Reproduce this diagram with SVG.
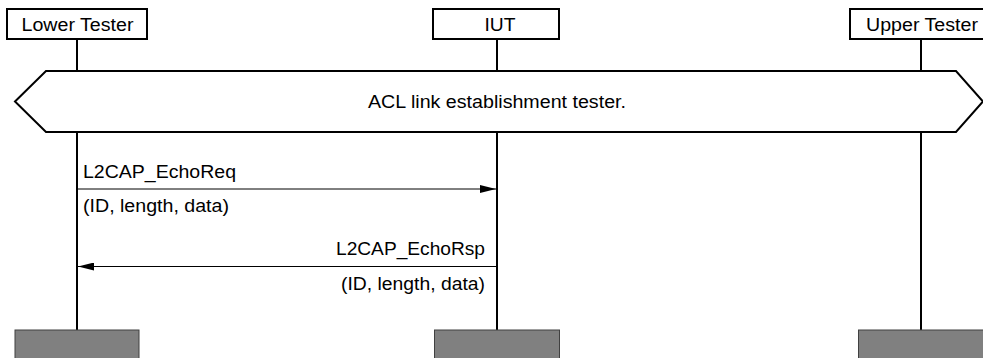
<svg xmlns="http://www.w3.org/2000/svg" width="983" height="358" viewBox="0 0 983 358">
<style>
text{font-family:"Liberation Sans",Arial,sans-serif;font-size:17.5px;fill:#000}
.hd{fill:#fff;stroke:#000;stroke-width:2}
.life{stroke:#000;stroke-width:2;fill:none}
.foot{fill:#808080;stroke:#404040;stroke-width:1}
.msg{stroke:#000;stroke-width:1;fill:none}
.sep{stroke:#000;stroke-width:1}
</style>
<defs>
<marker id="ah" viewBox="0 0 16 8" refX="16" refY="4" markerWidth="16" markerHeight="8" markerUnits="userSpaceOnUse" orient="auto">
<path d="M0,0 L16,4 L0,8 Z" fill="#000"/>
</marker>
</defs>
<g id="lower-tester">
<rect class="hd" x="7" y="9" width="140" height="30"/>
<text x="77.5" y="31" text-anchor="middle" textLength="112" lengthAdjust="spacingAndGlyphs">Lower Tester</text>
<line class="life" x1="77" y1="39" x2="77" y2="71"/>
<line class="life" x1="77" y1="132" x2="77" y2="330"/>
<rect class="foot" x="15" y="330" width="124" height="30"/>
</g>
<g id="iut">
<rect class="hd" x="433" y="9" width="126" height="30"/>
<text x="500" y="31" text-anchor="middle" textLength="31" lengthAdjust="spacingAndGlyphs">IUT</text>
<line class="life" x1="497" y1="39" x2="497" y2="71"/>
<line class="life" x1="497" y1="132" x2="497" y2="330"/>
<rect class="foot" x="434.5" y="330" width="125" height="30"/>
</g>
<g id="upper-tester">
<rect class="hd" x="850" y="9" width="142" height="30"/>
<text x="922" y="31" text-anchor="middle" textLength="112" lengthAdjust="spacingAndGlyphs">Upper Tester</text>
<line class="life" x1="921" y1="39" x2="921" y2="71"/>
<line class="life" x1="921" y1="132" x2="921" y2="330"/>
<rect class="foot" x="858.5" y="330" width="126" height="30"/>
</g>
<g id="acl-establishment">
<polygon class="hd" points="15,101.5 46,71 956,71 983,101.5 956,132 46,132"/>
<text x="497" y="108" text-anchor="middle" textLength="258" lengthAdjust="spacingAndGlyphs">ACL link establishment tester.</text>
</g>
<g id="connectors">
<g id="echo-req">
<line class="msg" x1="78" y1="189" x2="496" y2="189" marker-end="url(#ah)"/>
<text x="83" y="178" textLength="153" lengthAdjust="spacingAndGlyphs">L2CAP_EchoReq</text>
<text x="83" y="212" textLength="146" lengthAdjust="spacingAndGlyphs">(ID, length, data)</text>
</g>
<g id="echo-rsp">
<line class="msg" x1="496" y1="266.5" x2="78" y2="266.5" marker-end="url(#ah)"/>
<text x="485" y="255" text-anchor="end" textLength="149" lengthAdjust="spacingAndGlyphs">L2CAP_EchoRsp</text>
<text x="485" y="290" text-anchor="end" textLength="144" lengthAdjust="spacingAndGlyphs">(ID, length, data)</text>
</g>
</g>
</svg>
